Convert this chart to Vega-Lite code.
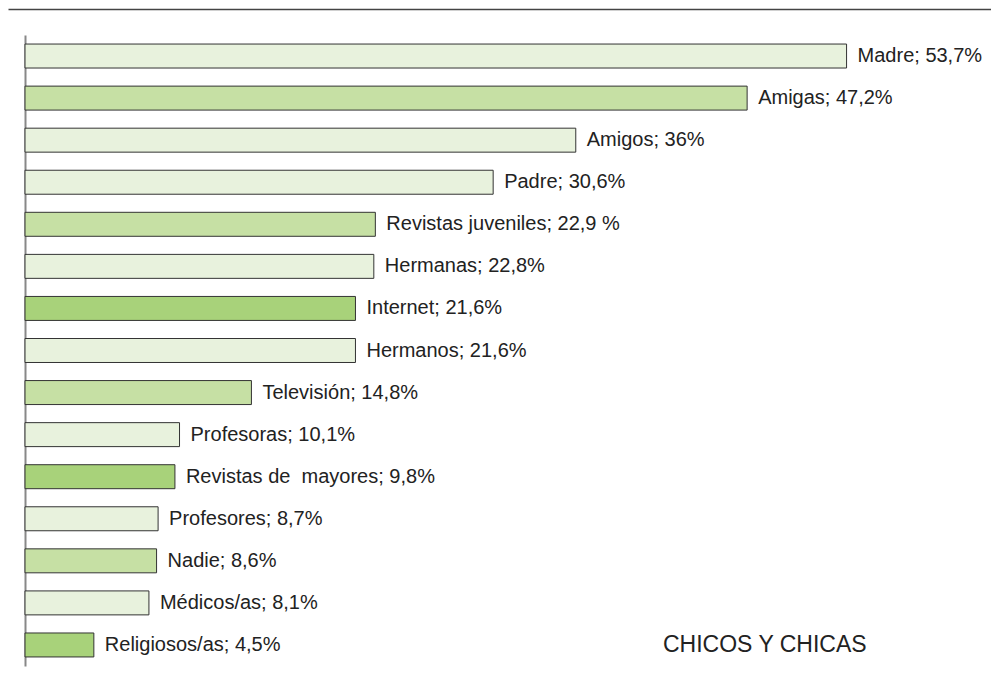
{
  "$schema": "https://vega.github.io/schema/vega-lite/v6.json",
  "autosize": "none",
  "padding": {"left": 8, "top": 9, "right": 0, "bottom": 0},
  "width": 983,
  "height": 677,
  "background": "white",
  "config": {"view": {"stroke": null}, "font": "Liberation Sans"},
  "datasets": {
    "fuentes": [
      {"fuente": "Madre", "pct": 53.7, "etiqueta": "Madre; 53,7%", "grupo": "A"},
      {"fuente": "Amigas", "pct": 47.2, "etiqueta": "Amigas; 47,2%", "grupo": "B"},
      {"fuente": "Amigos", "pct": 36, "etiqueta": "Amigos; 36%", "grupo": "A"},
      {"fuente": "Padre", "pct": 30.6, "etiqueta": "Padre; 30,6%", "grupo": "A"},
      {"fuente": "Revistas juveniles", "pct": 22.9, "etiqueta": "Revistas juveniles; 22,9 %", "grupo": "B"},
      {"fuente": "Hermanas", "pct": 22.8, "etiqueta": "Hermanas; 22,8%", "grupo": "A"},
      {"fuente": "Internet", "pct": 21.6, "etiqueta": "Internet; 21,6%", "grupo": "C"},
      {"fuente": "Hermanos", "pct": 21.6, "etiqueta": "Hermanos; 21,6%", "grupo": "A"},
      {"fuente": "Televisión", "pct": 14.8, "etiqueta": "Televisión; 14,8%", "grupo": "B"},
      {"fuente": "Profesoras", "pct": 10.1, "etiqueta": "Profesoras; 10,1%", "grupo": "A"},
      {"fuente": "Revistas de mayores", "pct": 9.8, "etiqueta": "Revistas de\u00a0 mayores; 9,8%", "grupo": "C"},
      {"fuente": "Profesores", "pct": 8.7, "etiqueta": "Profesores; 8,7%", "grupo": "A"},
      {"fuente": "Nadie", "pct": 8.6, "etiqueta": "Nadie; 8,6%", "grupo": "B"},
      {"fuente": "Médicos/as", "pct": 8.1, "etiqueta": "Médicos/as; 8,1%", "grupo": "A"},
      {"fuente": "Religiosos/as", "pct": 4.5, "etiqueta": "Religiosos/as; 4,5%", "grupo": "C"}
    ],
    "rotulo": [
      {"texto": "CHICOS Y CHICAS", "fuente": "Religiosos/as", "pos": 41.7}
    ]
  },
  "layer": [
    {
      "data": {"name": "fuentes"},
      "mark": {"type": "bar", "stroke": "#333333", "strokeWidth": 1},
      "encoding": {
        "y": {
          "field": "fuente",
          "type": "nominal",
          "sort": null,
          "scale": {"range": [26, 657], "paddingInner": 0.43, "paddingOuter": 0.215},
          "axis": {"domain": true, "domainColor": "#888888", "domainWidth": 2, "labels": false, "ticks": false, "grid": false, "title": null, "offset": -17}
        },
        "x": {
          "field": "pct",
          "type": "quantitative",
          "scale": {"domain": [-1.111, 63.14], "nice": false, "zero": false},
          "axis": {"orient": "top", "domain": true, "domainColor": "#444444", "domainWidth": 1.3, "labels": false, "ticks": false, "grid": false, "title": null}
        },
        "x2": {"datum": 0},
        "color": {
          "field": "grupo",
          "type": "nominal",
          "scale": {"domain": ["A", "B", "C"], "range": ["#e8f2dd", "#c6e0a4", "#a8d27a"]},
          "legend": null
        }
      }
    },
    {
      "data": {"name": "fuentes"},
      "mark": {"type": "text", "align": "left", "baseline": "middle", "dx": 11, "fontSize": 20, "color": "#222222", "font": "Liberation Sans"},
      "encoding": {
        "y": {"field": "fuente", "type": "nominal", "sort": null},
        "x": {"field": "pct", "type": "quantitative"},
        "text": {"field": "etiqueta"}
      }
    },
    {
      "data": {"name": "rotulo"},
      "mark": {"type": "text", "align": "left", "baseline": "middle", "fontSize": 23, "fontWeight": "normal", "color": "#222222", "font": "Liberation Sans"},
      "encoding": {
        "y": {"field": "fuente", "type": "nominal", "sort": null},
        "x": {"field": "pos", "type": "quantitative"},
        "text": {"field": "texto"}
      }
    }
  ]
}
